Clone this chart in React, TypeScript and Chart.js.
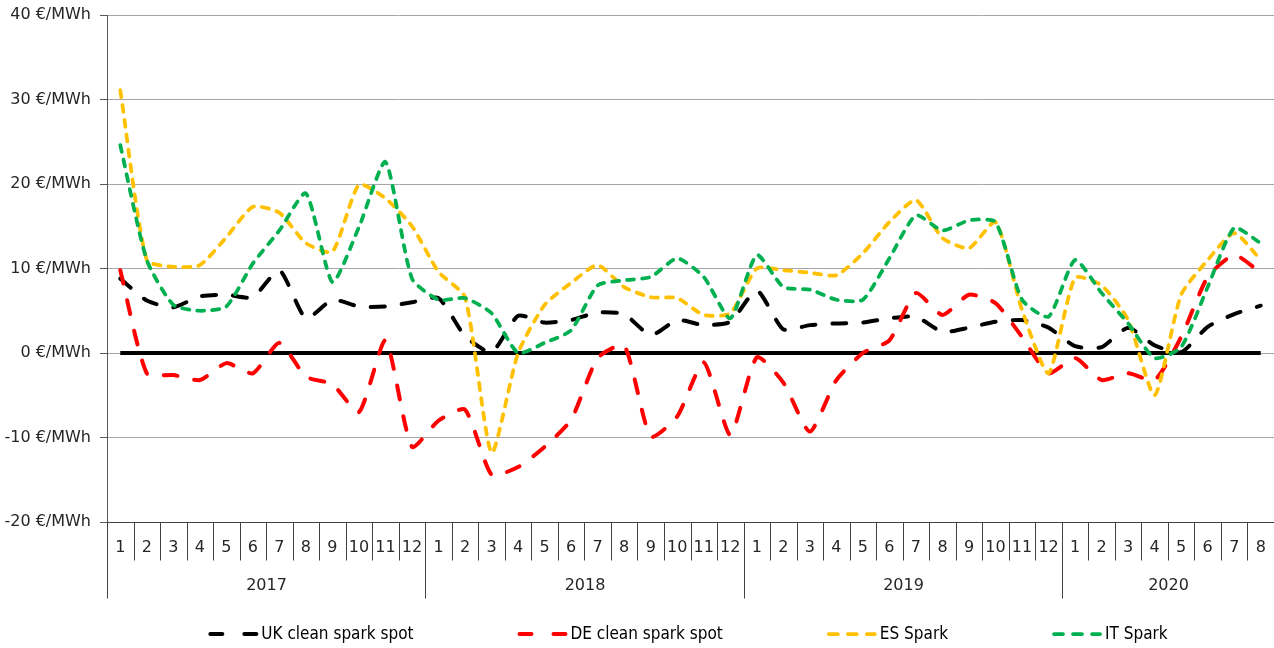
import React, { useEffect, useRef } from 'react';
import { Chart, registerables } from 'chart.js';

Chart.register(...registerables);

// ---- data ----
const monthLabels = [
  '1', '2', '3', '4', '5', '6', '7', '8', '9', '10', '11', '12',
  '1', '2', '3', '4', '5', '6', '7', '8', '9', '10', '11', '12',
  '1', '2', '3', '4', '5', '6', '7', '8', '9', '10', '11', '12',
  '1', '2', '3', '4', '5', '6', '7', '8',
];
const yearLabels = ['2017', '2018', '2019', '2020'];
const monthsInYear = [12, 12, 12, 8];

const ukCleanSparkSpot = [
  8.8, 6.2, 5.4, 6.7, 6.9, 6.6, 9.8, 4.1, 6.3, 5.5, 5.5, 6.0,
  6.5, 2.0, 0.1, 4.4, 3.6, 3.9, 4.8, 4.6, 2.1, 3.9, 3.3, 3.7,
  7.4, 2.8, 3.3, 3.5, 3.6, 4.1, 4.3, 2.5, 3.0, 3.7, 3.9, 3.0,
  0.8, 0.7, 3.0, 0.9, 0.1, 3.1, 4.6, 5.6,
];
const deCleanSparkSpot = [
  9.8, -2.4, -2.6, -3.2, -1.2, -2.4, 1.2, -2.8, -3.7, -7.0, 1.5, -11.1,
  -8.0, -6.7, -14.4, -13.5, -11.1, -7.9, -0.6, 0.9, -9.9, -7.5, -1.1, -9.7,
  -0.5, -3.5, -9.3, -3.2, 0.0, 1.5, 7.1, 4.5, 6.9, 5.9, 1.9, -2.4,
  -0.6, -3.2, -2.4, -3.2, 1.9, 9.0, 11.6, 9.5,
];
const esSpark = [
  31.1, 11.0, 10.2, 10.4, 13.7, 17.3, 16.6, 13.0, 12.0, 19.9, 18.3, 15.0,
  9.6, 6.6, -11.8, 0.0, 5.7, 8.3, 10.4, 7.8, 6.6, 6.5, 4.5, 4.7,
  10.0, 9.8, 9.5, 9.2, 11.8, 15.5, 18.1, 13.6, 12.4, 15.5, 5.1, -2.4,
  8.9, 8.0, 3.9, -5.0, 6.9, 11.0, 14.2, 11.0,
];
const itSpark = [
  24.6, 11.0, 5.7, 5.0, 5.5, 10.6, 14.5, 18.9, 8.4, 14.9, 22.6, 8.8,
  6.3, 6.5, 4.7, 0.0, 1.2, 2.7, 8.0, 8.6, 9.0, 11.2, 9.0, 4.1,
  11.6, 7.8, 7.5, 6.3, 6.3, 11.2, 16.3, 14.5, 15.7, 15.5, 6.3, 4.3,
  11.0, 7.1, 3.5, -0.6, 0.7, 7.8, 14.8, 13.0,
];
const zeroLine = [
  0, 0, 0, 0, 0, 0, 0, 0, 0, 0, 0, 0,
  0, 0, 0, 0, 0, 0, 0, 0, 0, 0, 0, 0,
  0, 0, 0, 0, 0, 0, 0, 0, 0, 0, 0, 0,
  0, 0, 0, 0, 0, 0, 0, 0,
];
const yMin = -20;
const yMax = 40;
const yStep = 10;
const yUnit = '€/MWh';

// ---- styles ----
const axisFont = '16px "DejaVu Sans", sans-serif';
const legendFont = '17px "DejaVu Sans Condensed", "DejaVu Sans", sans-serif';
const textColor = '#262626';

const categoryAxisPlugin = {
  id: 'categoryAxis',
  afterDraw(chart: any) {
    const { ctx, chartArea } = chart;
    const xs = chart.scales.x;
    const n = monthLabels.length;
    const step = xs.getPixelForValue(1) - xs.getPixelForValue(0);
    const edge = (i: number) => Math.round(xs.getPixelForValue(i) - step / 2) + 0.5;
    const top = Math.round(chartArea.bottom) + 0.5;
    const monthBottom = top + 38;
    const yearBottom = top + 76;
    const yearStarts = new Set<number>();
    let acc = 0;
    monthsInYear.forEach((m) => {
      yearStarts.add(acc);
      acc += m;
    });
    yearStarts.add(acc);
    ctx.save();
    ctx.strokeStyle = '#404040';
    ctx.lineWidth = 1;
    ctx.beginPath();
    ctx.moveTo(chartArea.left, top);
    ctx.lineTo(chartArea.right, top);
    for (let i = 0; i <= n; i++) {
      const x = edge(i);
      ctx.moveTo(x, top);
      ctx.lineTo(x, yearStarts.has(i) ? yearBottom : monthBottom);
    }
    ctx.stroke();
    ctx.fillStyle = textColor;
    ctx.font = axisFont;
    ctx.textAlign = 'center';
    ctx.textBaseline = 'middle';
    monthLabels.forEach((lbl, i) => ctx.fillText(lbl, xs.getPixelForValue(i), top + 25));
    acc = 0;
    yearLabels.forEach((yl, k) => {
      const mid = (edge(acc) + edge(acc + monthsInYear[k])) / 2;
      ctx.fillText(yl, mid, top + 63);
      acc += monthsInYear[k];
    });
    ctx.restore();
  },
};

const legendPlugin = {
  id: 'customLegend',
  afterDraw(chart: any) {
    const { ctx } = chart;
    const items = chart.data.datasets.filter((d: any) => d.label);
    const sample = 50;
    const textGap = 3;
    const itemGap = 104;
    const centerX = 688;
    const y = 634;
    ctx.save();
    ctx.font = legendFont;
    const widths = items.map((d: any) => sample + textGap + ctx.measureText(d.label).width);
    const total = widths.reduce((a: number, b: number) => a + b, 0) + itemGap * (items.length - 1);
    let x = centerX - total / 2;
    items.forEach((d: any, i: number) => {
      ctx.beginPath();
      ctx.strokeStyle = d.borderColor;
      ctx.lineWidth = d.borderWidth;
      ctx.lineCap = 'round';
      ctx.setLineDash(d.legendDash);
      ctx.moveTo(x + 2, y);
      ctx.lineTo(x + sample - 2, y);
      ctx.stroke();
      ctx.setLineDash([]);
      ctx.fillStyle = '#000';
      ctx.textAlign = 'left';
      ctx.textBaseline = 'middle';
      ctx.fillText(d.label, x + sample + textGap, y + 1);
      x += widths[i] + itemGap;
    });
    ctx.restore();
  },
};

export default function App() {
  const canvasRef = useRef<HTMLCanvasElement | null>(null);

  useEffect(() => {
    const canvas = canvasRef.current;
    if (!canvas) return;
    const seriesBase = {
      pointRadius: 0,
      pointHoverRadius: 0,
      fill: false,
      tension: 0.2,
      borderCapStyle: 'round' as const,
      borderJoinStyle: 'round' as const,
    };
    const chart = new Chart(canvas, {
      type: 'line',
      data: {
        labels: monthLabels,
        datasets: [
          {
            ...seriesBase,
            label: 'UK clean spark spot',
            data: ukCleanSparkSpot,
            borderColor: '#000000',
            backgroundColor: '#000000',
            borderWidth: 4,
            borderDash: [14, 17],
            legendDash: [12, 22],
            order: 4,
          } as any,
          {
            ...seriesBase,
            label: 'DE clean spark spot',
            data: deCleanSparkSpot,
            borderColor: '#ff0000',
            backgroundColor: '#ff0000',
            borderWidth: 4,
            borderDash: [14, 17],
            legendDash: [12, 22],
            order: 3,
          } as any,
          {
            ...seriesBase,
            label: 'ES Spark',
            data: esSpark,
            borderColor: '#ffc000',
            backgroundColor: '#ffc000',
            borderWidth: 3.75,
            borderDash: [7, 8],
            legendDash: [9, 10],
            order: 2,
          } as any,
          {
            ...seriesBase,
            label: 'IT Spark',
            data: itSpark,
            borderColor: '#00b050',
            backgroundColor: '#00b050',
            borderWidth: 3.75,
            borderDash: [7, 8],
            legendDash: [9, 10],
            order: 1,
          } as any,
          {
            ...seriesBase,
            label: '',
            data: zeroLine,
            borderColor: '#000000',
            borderWidth: 4,
            borderCapStyle: 'butt',
            tension: 0,
            order: 5,
          } as any,
        ],
      },
      options: {
        animation: false,
        responsive: false,
        maintainAspectRatio: false,
        layout: { padding: { top: 15, right: 0, left: 0, bottom: 0 } },
        plugins: {
          legend: { display: false },
          tooltip: { enabled: false },
        },
        scales: {
          x: {
            type: 'category',
            offset: true,
            grid: { display: false },
            border: { display: false },
            ticks: { display: false },
            afterFit: (scale: any) => {
              scale.height = 126;
            },
          },
          y: {
            min: yMin,
            max: yMax,
            ticks: {
              stepSize: yStep,
              padding: 9,
              color: textColor,
              font: { family: '"DejaVu Sans", sans-serif', size: 16 },
              callback: (v: any) => `${v} ${yUnit}`,
            },
            grid: { color: '#a6a6a6', lineWidth: 1, tickLength: 7, tickColor: '#595959' },
            border: { display: true, color: '#595959', width: 1 },
            afterFit: (scale: any) => {
              scale.width = 107;
              scale.paddingTop = 0;
              scale.paddingBottom = 0;
            },
          },
        },
      },
      plugins: [categoryAxisPlugin, legendPlugin],
    });
    return () => chart.destroy();
  }, []);

  return (
    <div style={{ position: 'absolute', left: 0, top: 0, width: 1274, height: 648, background: '#fff' }}>
      <canvas ref={canvasRef} width={1274} height={648} style={{ display: 'block' }} />
    </div>
  );
}
